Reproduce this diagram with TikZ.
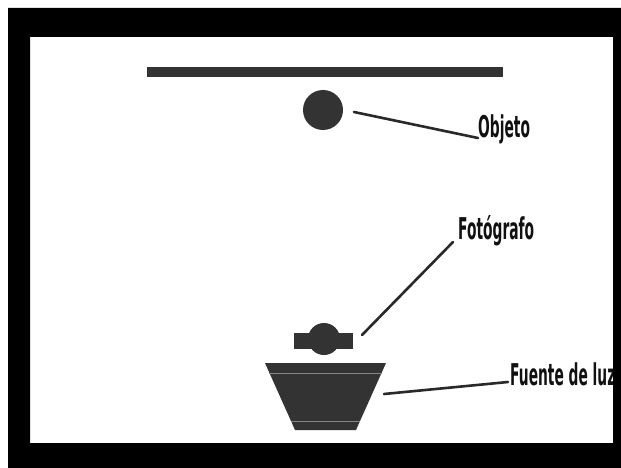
\documentclass[tikz,border=0pt]{standalone}
\usepackage{fontspec}
\newfontfamily\lblfont{DejaVu Sans}[FakeStretch=0.46]
\definecolor{shapegray}{HTML}{333333}
\definecolor{ink}{HTML}{111111}
\tikzset{
  lbl/.style={inner sep=0pt, anchor=base west, text=ink, font=\lblfont\bfseries\fontsize{30}{30}\selectfont},
  leader/.style={draw=ink!90!white, line width=2.6pt, line cap=round},
  solid shape/.style={fill=shapegray, draw=none},
}
\begin{document}
\begin{tikzpicture}[x=1pt,y=-1pt]
\useasboundingbox (0,0) rectangle (621,468);
\fill[white] (0,0) rectangle (621,468);
% top bar
\fill[shapegray] (147,67) rectangle (503,77);
% object
\node[solid shape, circle, minimum size=40pt, inner sep=0pt] (obj) at (323,110) {};
\coordinate (objEnd) at (354,112);
\node[lbl] (objlbl) at (478,138) {Objeto};
\draw[leader] (objEnd) -- (objlbl.base west);
% camera (photographer)
\node[solid shape, rectangle, minimum width=59pt, minimum height=16pt, inner sep=0pt] (bar) at (323.5,341) {};
\node[solid shape, circle, minimum size=32pt, inner sep=0pt] (cam) at (324,339) {};
\coordinate (camEnd) at (362,335);
\node[lbl] (fotolbl) at (458,239) {Fotógrafo};
\coordinate (fotoEnd) at (453,242);
\draw[leader] (camEnd) -- (fotoEnd);
% light source (trapezoid)
\fill[shapegray] (265,363) -- (386,363) -- (356,430) -- (295,430) -- cycle;
\draw[white!40!shapegray, line width=0.7pt] (269,373) -- (382,373);
\draw[white!40!shapegray, line width=0.7pt] (291,421) -- (360,421);
\coordinate (lampEnd) at (384,394);
\node[lbl] (lamplbl) at (510,385) {Fuente de luz};
\coordinate (lampLblEnd) at (508,382);
\draw[leader] (lampEnd) -- (lampLblEnd);
% frame
\fill[black, even odd rule] (8,8) rectangle (621,468) (30,37) rectangle (613,443);
\end{tikzpicture}
\end{document}
